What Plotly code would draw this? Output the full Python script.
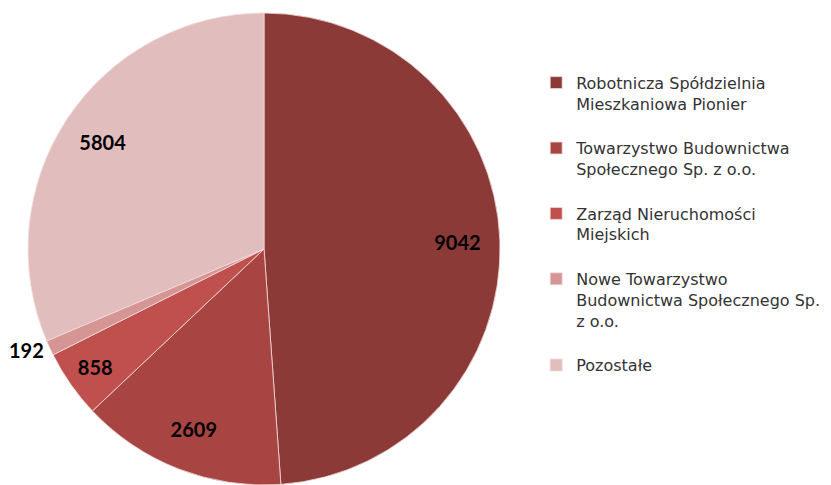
import plotly.graph_objects as go

labels = [
    "Robotnicza Spółdzielnia<br>Mieszkaniowa Pionier<br> ",
    "Towarzystwo Budownictwa<br>Społecznego Sp. z o.o.<br> ",
    "Zarząd Nieruchomości<br>Miejskich<br> ",
    "Nowe Towarzystwo<br>Budownictwa Społecznego Sp.<br>z o.o.<br> ",
    "Pozostałe",
]
values = [9042, 2609, 858, 192, 5804]
colors = ["#8C3A38", "#A84543", "#C0504D", "#D49594", "#E2BDBD"]
text_pos = ["inside", "inside", "inside", "outside", "inside"]

domain = dict(x=[0.0241, 0.5921], y=[0.0165, 0.9897])

# main pie (slices + legend)
fig = go.Figure(
    go.Pie(
        labels=labels,
        values=values,
        textinfo="none",
        sort=False,
        direction="clockwise",
        rotation=0,
        marker=dict(colors=colors, line=dict(color="#F2DCDB", width=0.8)),
        domain=domain,
        hoverinfo="value+percent",
    )
)

# same data as a transparent ring carrying the value labels near the rim
fig.add_trace(
    go.Pie(
        labels=labels,
        values=values,
        text=[str(v) for v in values],
        textinfo="text",
        textposition=text_pos,
        insidetextorientation="horizontal",
        hole=0.64,
        sort=False,
        direction="clockwise",
        rotation=0,
        showlegend=False,
        marker=dict(colors=["rgba(0,0,0,0)"] * len(values), line=dict(width=0)),
        textfont=dict(family="Lato, Noto Sans, sans-serif", size=20, color="#000000", weight="bold"),
        domain=domain,
        hoverinfo="skip",
    )
)

fig.update_layout(
    width=831,
    height=485,
    margin=dict(l=0, r=0, t=0, b=0, autoexpand=False),
    paper_bgcolor="white",
    plot_bgcolor="white",
    showlegend=True,
    legend=dict(
        x=0.6356,
        y=0.881,
        xanchor="left",
        yanchor="top",
        valign="top",
        font=dict(family="DejaVu Sans, sans-serif", size=16, color="#333333"),
        itemwidth=30,
    ),
)

fig.write_html("out.html")
